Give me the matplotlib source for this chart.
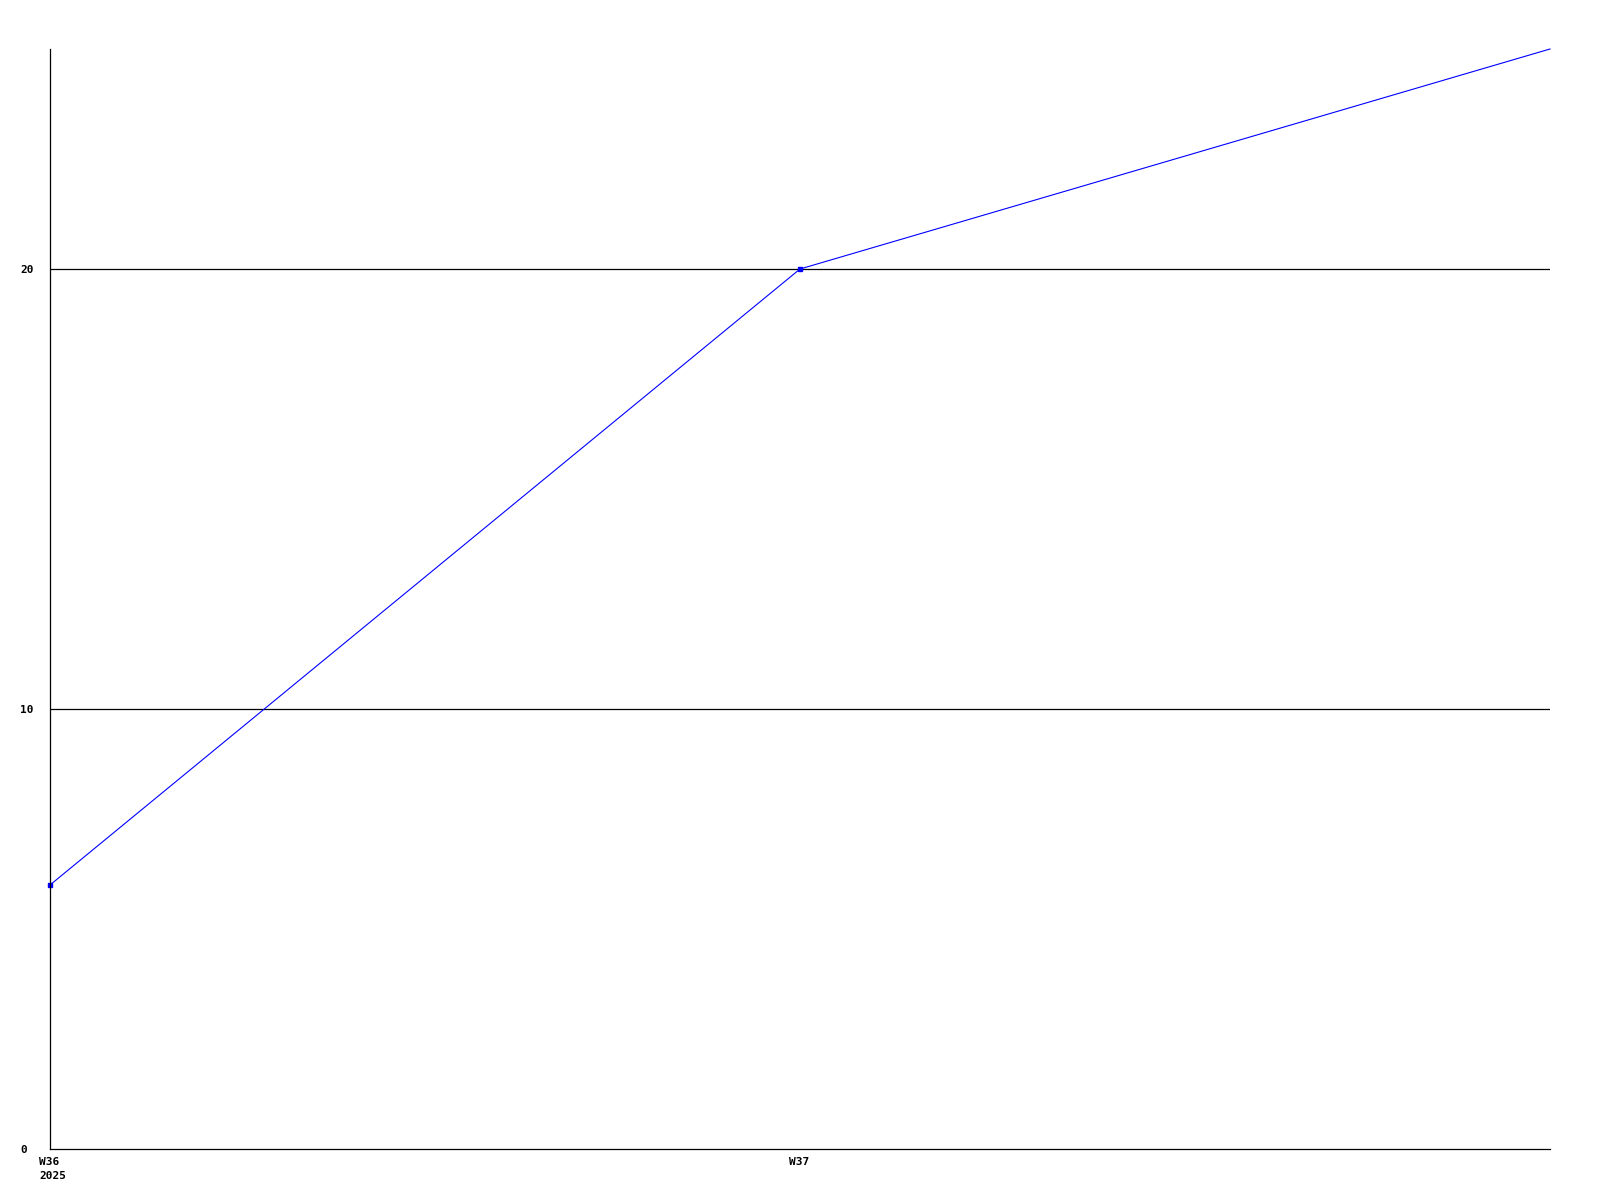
import matplotlib
matplotlib.use("Agg")
import matplotlib.pyplot as plt
import matplotlib.transforms as mtransforms

# weekly values
weeks = ["W36\n2025", "W37", ""]
values = [6, 20, 25]
y_ticks = [0, 10, 20]

fig = plt.figure(figsize=(16, 12), dpi=100)
ax = fig.add_axes([50 / 1600, 51 / 1200, 1500 / 1600, 1100 / 1200])

x = list(range(len(values)))
ax.plot(x, values, color="#0000ff", lw=0.8,
        marker="s", markersize=3, markevery=[0, 1], clip_on=False)

ax.set_xlim(0, len(values) - 1)
ax.set_ylim(0, 25)

for v in y_ticks[1:]:
    ax.axhline(v, color="black", lw=0.9, zorder=0)

for s in ["top", "right"]:
    ax.spines[s].set_visible(False)
for s in ["left", "bottom"]:
    ax.spines[s].set_linewidth(0.9)

font = dict(family="DejaVu Sans Mono", weight="bold", size=8)
ax.set_yticks(y_ticks)
ax.set_yticklabels([str(v) for v in y_ticks], ha="left", **font)
ax.tick_params(axis="y", length=0, pad=21.6)

ax.set_xticks(x[:2])
ax.set_xticklabels(weeks[:2], ha="left", multialignment="left",
                   linespacing=1.5, **font)
ax.tick_params(axis="x", length=0, pad=6)
offset = mtransforms.ScaledTranslation(-11 / 100, 0, fig.dpi_scale_trans)
for lbl in ax.get_xticklabels():
    lbl.set_transform(lbl.get_transform() + offset)

fig.savefig("out.png", dpi=100)
